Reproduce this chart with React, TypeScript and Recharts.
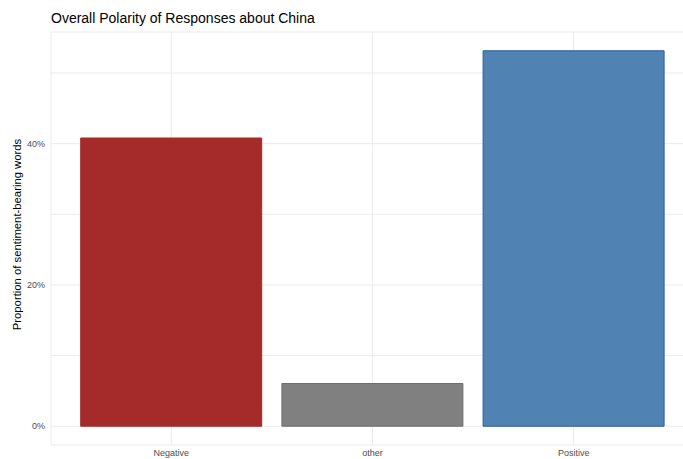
import { Bar, BarChart, CartesianGrid, Cell, Label, XAxis, YAxis } from "recharts";

const categories = ["Negative", "other", "Positive"];
const proportions = [40.8, 6.05, 53.15];
const fills = ["#A52A2A", "#808080", "#5182B4"];
const strokes = ["#A52A2A", "#6E6E6E", "#2B5C9E"];
const yTicks = [0, 10, 20, 30, 40, 50];
const yTickLabels: Record<number, string> = { 0: "0%", 20: "20%", 40: "40%" };

const rows = categories.map((c, i) => ({ category: c, value: proportions[i] }));
const maxVal = Math.max(...proportions);

export default function App() {
  return (
    <div style={{ width: 683, height: 459, overflow: "hidden", position: "relative", background: "#fff" }}>
      <style>{"html, body { margin: 0; padding: 0; overflow: hidden; }"}</style>
      <div
        style={{
          position: "absolute",
          left: 51,
          top: 10,
          fontFamily: "Liberation Sans, Arial, sans-serif",
          fontSize: 14,
          color: "#000",
        }}
      >
        Overall Polarity of Responses about China
      </div>
      <BarChart
        width={700}
        height={459}
        data={rows}
        margin={{ top: 32, right: 6, bottom: 0, left: 0 }}
        style={{ position: "absolute", left: 0, top: 0, fontFamily: "Liberation Sans, Arial, sans-serif" }}
      >
        <CartesianGrid stroke="#EBEBEB" strokeWidth={1} />
        <XAxis
          dataKey="category"
          axisLine={false}
          tickLine={false}
          tickSize={0}
          padding={{ left: 19.7, right: 19.7 }}
          height={14}
          tick={{ fontSize: 9, fill: "#4D4D4D" }}
          tickMargin={5}
        />
        <YAxis
          type="number"
          domain={[-0.05 * maxVal, 1.05 * maxVal]}
          ticks={yTicks}
          interval={0}
          width={51}
          axisLine={false}
          tickLine={false}
          tickSize={0}
          tick={{ fontSize: 9, fill: "#4D4D4D" }}
          tickMargin={6}
          tickFormatter={(v: number) => yTickLabels[v] ?? ""}
          allowDataOverflow
        >
          <Label
            value="Proportion of sentiment-bearing words"
            angle={-90}
            position="insideLeft"
            offset={17}
            dy={-4}
            style={{ textAnchor: "middle", fontSize: 11.3, fill: "#000" }}
          />
        </YAxis>
        <Bar dataKey="value" barSize={181} isAnimationActive={false}>
          {rows.map((r, i) => (
            <Cell key={r.category} fill={fills[i]} stroke={strokes[i]} strokeWidth={1} />
          ))}
        </Bar>
      </BarChart>
    </div>
  );
}
